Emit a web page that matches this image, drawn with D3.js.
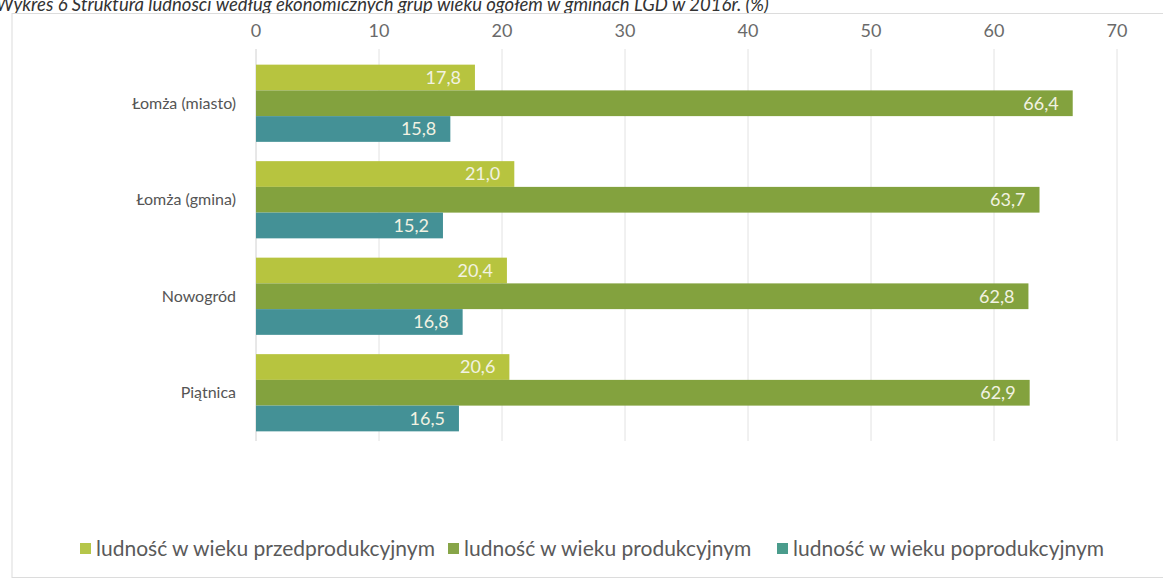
<!DOCTYPE html>
<html>
<head>
<meta charset="utf-8">
<script src="https://cdn.jsdelivr.net/npm/d3@7"></script>
<style>
  body { margin: 0; background: #fff; }
  svg { display: block; font-family: Lato, "Open Sans", sans-serif; }
</style>
</head>
<body>
<svg id="chart" width="1163" height="581"></svg>
<script>
// data
const gminy = ["Łomża (miasto)", "Łomża (gmina)", "Nowogród", "Piątnica"];
const przedprodukcyjny = [17.8, 21.0, 20.4, 20.6];
const produkcyjny = [66.4, 63.7, 62.8, 62.9];
const poprodukcyjny = [15.8, 15.2, 16.8, 16.5];
const seriesNames = [
    "ludność w wieku przedprodukcyjnym",
    "ludność w wieku produkcyjnym",
    "ludność w wieku poprodukcyjnym"
];
const xTicks = [0, 10, 20, 30, 40, 50, 60, 70];

const colors = ["#b7c43f", "#83a23e", "#449196"];
const legendColors = ["#b5c64a", "#87a548", "#4a9c8c"];

const svg = d3.select("#chart");
const margin = { top: 55, left: 256, bottom: 441 };

// title, partly cut off at the top in the scan
svg.append("text")
    .attr("x", -4)
    .attr("y", 11)
    .attr("font-style", "italic")
    .attr("font-size", 18.5)
    .attr("fill", "#333")
    .text("Wykres 6 Struktura ludności według ekonomicznych grup wieku ogółem w gminach LGD w 2016r. (%)");

// frame
svg.append("rect")
    .attr("x", 12)
    .attr("y", 13.5)
    .attr("width", 1170)
    .attr("height", 564)
    .attr("fill", "none")
    .attr("stroke", "#dcdcdc");

const x = d3.scaleLinear()
    .domain([0, 70])
    .range([margin.left, margin.left + 70 * 12.3]);

const y = d3.scaleBand()
    .domain(gminy)
    .range([margin.top, margin.bottom])
    .paddingInner(0.2)
    .paddingOuter(0.1);

const ySub = d3.scaleBand()
    .domain([0, 1, 2])
    .range([0, y.bandwidth()]);

// grid
svg.append("g")
    .selectAll("line")
    .data(xTicks)
    .join("line")
    .attr("x1", d => x(d))
    .attr("x2", d => x(d))
    .attr("y1", margin.top - 6)
    .attr("y2", margin.bottom)
    .attr("stroke", d => d === 0 ? "#d0d0d0" : "#e2e2e2")
    .attr("stroke-width", 1);

// top axis labels
svg.append("g")
    .selectAll("text")
    .data(xTicks)
    .join("text")
    .attr("x", d => x(d))
    .attr("y", 37)
    .attr("text-anchor", "middle")
    .attr("font-size", 18)
    .attr("fill", "#6a6a6a")
    .text(d => d);

// category labels
svg.append("g")
    .selectAll("text")
    .data(gminy)
    .join("text")
    .attr("x", margin.left - 20)
    .attr("y", d => y(d) + y.bandwidth() / 2)
    .attr("dy", "0.35em")
    .attr("text-anchor", "end")
    .attr("font-size", 16)
    .attr("fill", "#555")
    .text(d => d);

const series = [przedprodukcyjny, produkcyjny, poprodukcyjny];
const fmt = v => v.toFixed(1).replace(".", ",");

series.forEach((vals, s) => {
    const g = svg.append("g");
    g.selectAll("rect")
        .data(vals)
        .join("rect")
        .attr("x", x(0))
        .attr("y", (d, i) => y(gminy[i]) + ySub(s))
        .attr("width", d => x(d) - x(0))
        .attr("height", ySub.bandwidth())
        .attr("fill", colors[s]);
    g.selectAll("text")
        .data(vals)
        .join("text")
        .attr("x", d => x(d) - 14)
        .attr("y", (d, i) => y(gminy[i]) + ySub(s) + ySub.bandwidth() / 2)
        .attr("dy", "0.36em")
        .attr("text-anchor", "end")
        .attr("font-size", 18)
        .attr("fill", "#f2f2e2")
        .text(fmt);
});

// legend
const legendX = [80, 448, 777];
const legend = svg.append("g");
seriesNames.forEach((name, i) => {
    legend.append("rect")
        .attr("x", legendX[i])
        .attr("y", 543)
        .attr("width", 11)
        .attr("height", 11)
        .attr("fill", legendColors[i]);
    legend.append("text")
        .attr("x", legendX[i] + 16)
        .attr("y", 549)
        .attr("dy", "0.35em")
        .attr("font-size", 21)
        .attr("fill", "#5a5a5a")
        .text(name);
});
</script>
</body>
</html>
